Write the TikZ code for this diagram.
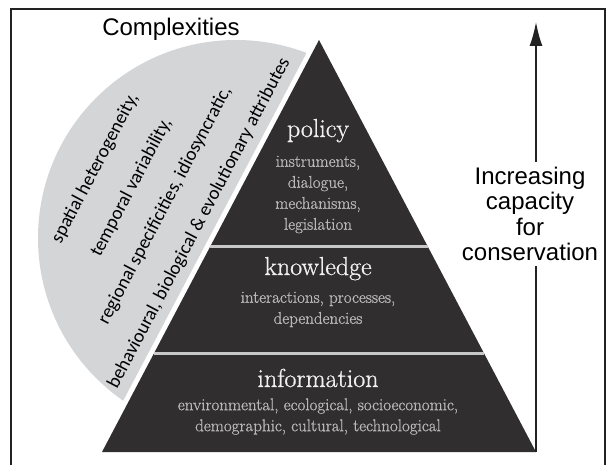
\documentclass[tikz,border=0pt]{standalone}
\usepackage{fontspec}
\newfontfamily\arialfont{Liberation Sans}
\newfontfamily\calibrifont{Carlito}
\newfontfamily\tierfont{Latin Modern Roman}[FakeBold=0.8]
\usetikzlibrary{arrows.meta,calc,positioning}
\definecolor{pyramidgray}{RGB}{49,46,47}
\definecolor{discgray}{RGB}{212,213,215}
\definecolor{rulegray}{RGB}{200,200,200}
\definecolor{titlewhite}{RGB}{240,240,240}
\definecolor{itemgray}{RGB}{185,185,185}
\definecolor{framegray}{RGB}{35,35,35}
\tikzset{
  tier/.style={text=titlewhite,font=\tierfont\fontsize{26}{30}\selectfont,inner sep=0pt,anchor=base},
  items/.style={text=itemgray,font=\tierfont\fontsize{17}{21}\selectfont,align=center,inner sep=0pt,anchor=north},
  complexity/.style={font=\calibrifont\fontsize{19}{22}\selectfont,inner sep=0pt,anchor=base},
  heading/.style={font=\arialfont\fontsize{24}{28}\selectfont,inner sep=0pt,anchor=base},
  sidetext/.style={font=\arialfont\fontsize{24}{25.3}\selectfont,align=center,inner xsep=0pt,inner ysep=5pt,anchor=north}
}
\begin{document}
\begin{tikzpicture}[x=1pt,y=1pt]
\useasboundingbox (0,0) rectangle (607,464);
% frame
\draw[framegray,line width=2pt] (11,-5)--(11,455)--(605,455)--(605,-5);
% pyramid corners
\coordinate (apex) at (319,424);
\coordinate (bl) at (102,12);
\coordinate (br) at (536,12);
% grey disc, cut along the pyramid side
\begin{scope}
\clip[shift={(apex)},rotate=62.2] (-500,5) rectangle (100,300);
\fill[discgray] (236,226) circle (198);
\end{scope}
% pyramid and its tiers
\fill[pyramidgray] (bl)--(apex)--(br)--cycle;
\draw[rulegray,line width=3pt] ($(bl)!0.498!(apex)$)--($(br)!0.498!(apex)$);
\draw[rulegray,line width=3pt] ($(bl)!0.240!(apex)$)--($(br)!0.240!(apex)$);
\node[tier] (policy) at (318,327) {policy};
\node[items] (policyitems) at (318,308.4) {instruments,\\dialogue,\\mechanisms,\\legislation};
\node[tier] (knowledge) at (318,189) {knowledge};
\node[items] (knowledgeitems) at (318,172.4) {interactions, processes,\\dependencies};
\node[tier] (information) at (318,77) {information};
\node[items] (informationitems) at (318,65.8) {environmental, ecological, socioeconomic,\\demographic, cultural, technological};
% complexities
\node[heading] (complexities) at (171,428) {Complexities};
\begin{scope}[shift={(apex)},rotate=62.2,transform shape]
\node[complexity] (spatial) at (-218,133) {spatial heterogeneity,};
\node[complexity] (temporal) at (-218,92) {temporal variability,};
\node[complexity] (regional) at (-218,54) {regional specificities, idiosyncratic,};
\node[complexity] (behavioural) at (-218,15.5) {behavioural, biological \& evolutionary attributes};
\end{scope}
% capacity arrow
\node[sidetext] (capacity) at (530,302) {Increasing\\capacity\\for\\conservation};
\coordinate (arrowtip) at (536,442);
\draw[framegray,line width=1.6pt] (br)--(br|-capacity.south);
\draw[framegray,line width=1.6pt,-{Latex[length=24pt,width=13pt]}] (br|-capacity.north)--(arrowtip);
\end{tikzpicture}
\end{document}
